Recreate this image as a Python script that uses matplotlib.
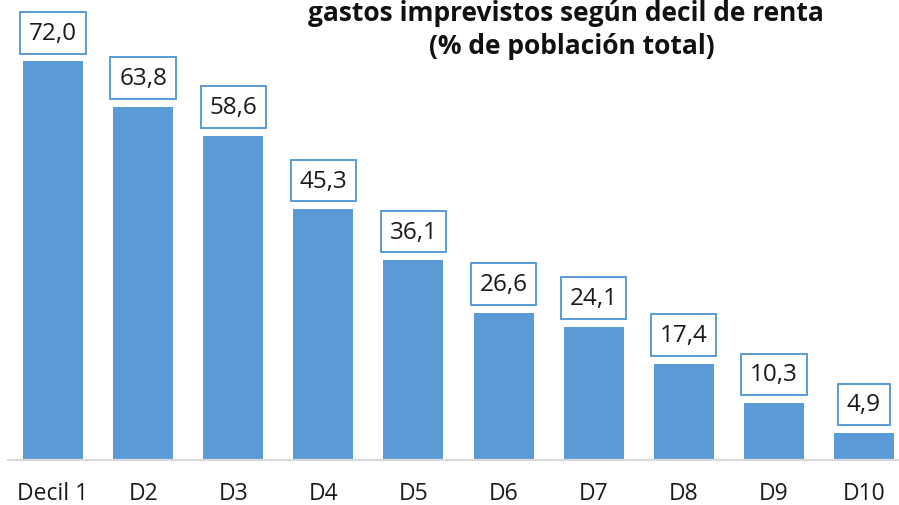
import matplotlib
matplotlib.use("Agg")
import matplotlib.pyplot as plt

categories = ["Decil 1", "D2", "D3", "D4", "D5", "D6", "D7", "D8", "D9", "D10"]
values = [72.0, 63.8, 58.6, 45.3, 36.1, 26.6, 24.1, 17.4, 10.3, 4.9]
title_line1 = "gastos imprevistos según decil de renta"
title_line2 = "(% de población total)"

plt.rcParams['font.family'] = ['Open Sans', 'DejaVu Sans']

W, H = 899, 506
fig = plt.figure(figsize=(W / 100, H / 100), dpi=100)
ax = fig.add_axes([8 / W, 45 / H, 901 / W, 443 / H])

bar_color = '#5B9BD5'
x = range(len(categories))
ax.bar(x, values, width=0.667, color=bar_color, zorder=2)
ax.set_xlim(-0.5, 9.5)
ax.set_ylim(0, 80)

for s in ['top', 'right', 'left']:
    ax.spines[s].set_visible(False)
ax.spines['bottom'].set_color('#D9D9D9')
ax.spines['bottom'].set_linewidth(1.6)
ax.set_yticks([])
ax.set_xticks(list(x))
ax.set_xticklabels(categories, fontsize=16.5, color='#1a1a1a')
ax.tick_params(axis='x', length=0, pad=15)

for i, v in enumerate(values):
    ax.annotate(f"{v:.1f}".replace('.', ','), (i, v), xytext=(0, 20.5),
                textcoords='offset points', ha='center', va='center',
                fontsize=17.5, color='#1a1a1a',
                bbox=dict(boxstyle='square,pad=0.36', fc='white', ec=bar_color, lw=1.4),
                zorder=3)

fig.text(308 / W, 1 - 21 / H, title_line1, ha='left', va='baseline',
         fontsize=19, fontweight='bold', color='#111111')
fig.text(572 / W, 1 - 54 / H, title_line2, ha='center', va='baseline',
         fontsize=19, fontweight='bold', color='#111111')

fig.savefig("out.png", dpi=100)
